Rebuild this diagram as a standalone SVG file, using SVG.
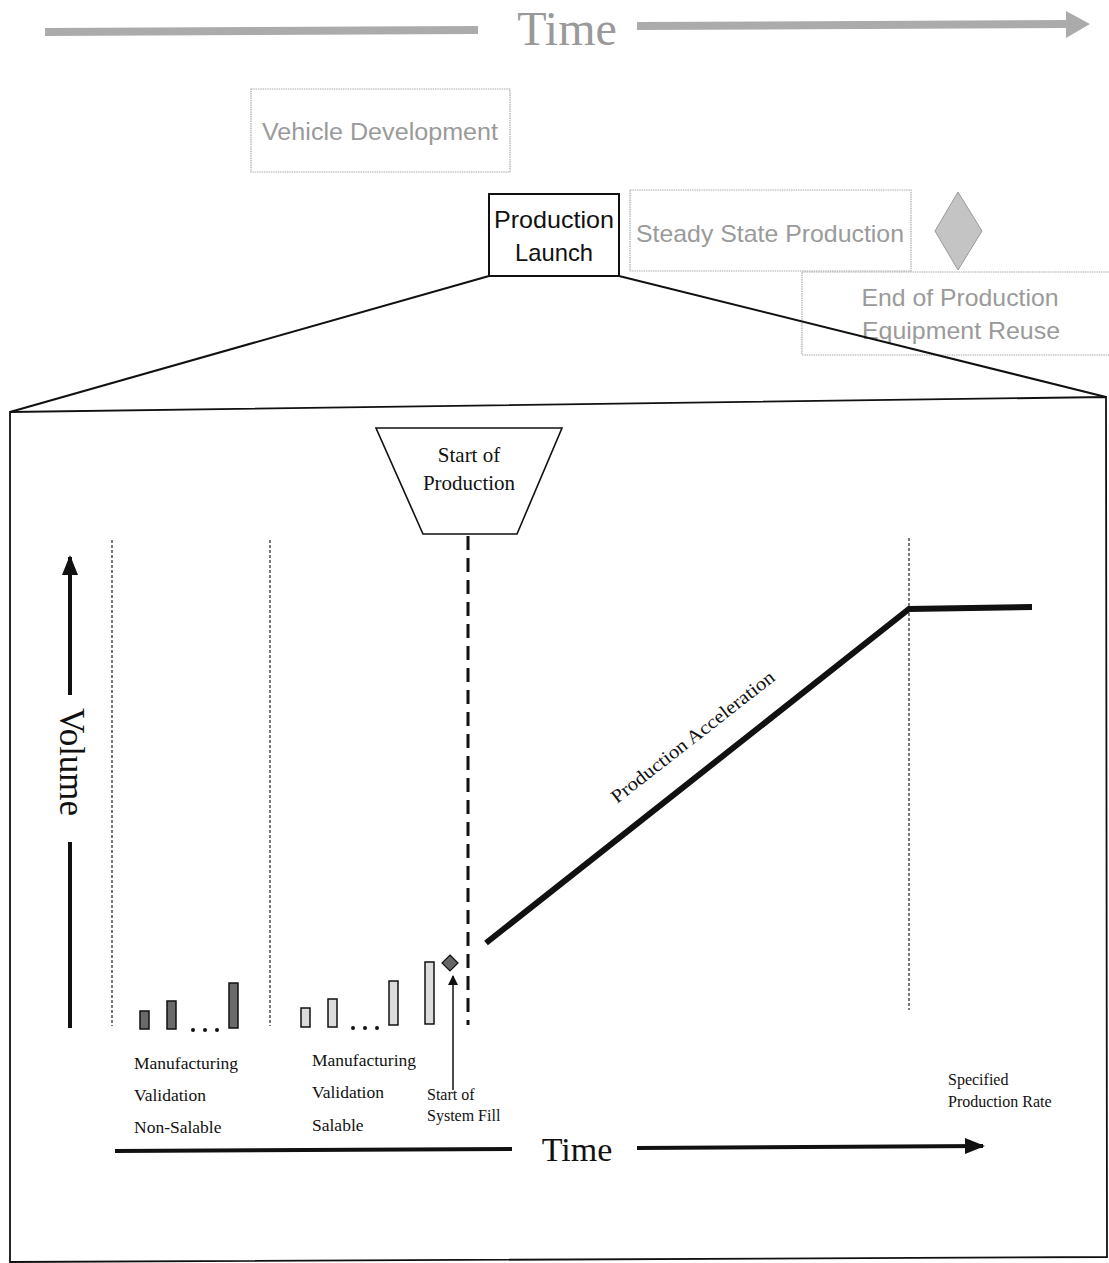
<svg xmlns="http://www.w3.org/2000/svg" width="1109" height="1263" viewBox="0 0 1109 1263">
<defs>
<style>
.g{font-family:"Liberation Sans",Arial,sans-serif;fill:#9a9a9a;}
.gb{fill:#fff;stroke:#aaa;stroke-width:1.2;stroke-dasharray:1.5 0.8;}
.s{font-family:"Liberation Serif","Times New Roman",serif;fill:#111;}
.dot{stroke:#222;stroke-width:1.2;stroke-dasharray:3 2;fill:none;}
.dk{fill:#6a6a6a;stroke:#111;stroke-width:1.5;}
.lt{fill:#dcdcdc;stroke:#111;stroke-width:1.5;}
</style>
<marker id="ah" viewBox="0 0 10 10" refX="9" refY="5" markerWidth="5" markerHeight="5" orient="auto" markerUnits="strokeWidth"><path d="M0,1 L10,5 L0,9 Z" fill="#111"/></marker>
<marker id="ah2" viewBox="0 0 10 10" refX="9" refY="5" markerWidth="7" markerHeight="8" orient="auto" markerUnits="strokeWidth"><path d="M0,0 L10,5 L0,10 Z" fill="#111"/></marker>
</defs>
<rect width="1109" height="1263" fill="#fff"/>

<g id="top-time">
<polygon points="45,28 478,26 478,34 45,36" fill="#ababab"/>
<text x="567" y="45" class="s" font-size="48" style="fill:#999" text-anchor="middle">Time</text>
<polygon points="637,22 1066,20 1066,11 1090,24 1066,38 1066,28 637,30" fill="#ababab"/>
</g>

<g id="vehicle-development">
<rect x="251" y="89" width="259" height="83" class="gb"/>
<text x="380" y="140" class="g" font-size="23" text-anchor="middle" textLength="236" lengthAdjust="spacingAndGlyphs">Vehicle Development</text>
</g>

<g id="production-launch">
<rect x="489" y="194" width="130" height="82" fill="#fff" stroke="#111" stroke-width="2"/>
<text x="554" y="228" font-family="Liberation Sans,Arial,sans-serif" font-size="24" fill="#111" text-anchor="middle" textLength="120" lengthAdjust="spacingAndGlyphs">Production</text>
<text x="554" y="261" font-family="Liberation Sans,Arial,sans-serif" font-size="24" fill="#111" text-anchor="middle" textLength="78" lengthAdjust="spacingAndGlyphs">Launch</text>
</g>

<g id="steady-state">
<rect x="630" y="190" width="281" height="81" class="gb"/>
<text x="770" y="242" class="g" font-size="24" text-anchor="middle" textLength="268" lengthAdjust="spacingAndGlyphs">Steady State Production</text>
</g>

<g id="diamond">
<polygon points="958,192 982,231 958,270 935,231" fill="#c4c4c4" stroke="#999" stroke-width="1"/>
</g>

<g id="end-of-production">
<rect x="802" y="272" width="310" height="83" class="gb"/>
<text x="960" y="306" class="g" font-size="24" text-anchor="middle" textLength="197" lengthAdjust="spacingAndGlyphs">End of Production</text>
<text x="961" y="339" class="g" font-size="24" text-anchor="middle" textLength="198" lengthAdjust="spacingAndGlyphs">Equipment Reuse</text>
</g>

<g id="zoom-frame" fill="none" stroke="#111">
<line x1="489" y1="276" x2="10" y2="412" stroke-width="2"/>
<line x1="619" y1="276" x2="1106" y2="397" stroke-width="2"/>
<polygon points="10,412 1106,397 1107,1257 10,1262" stroke-width="1.8"/>
</g>

<g id="start-of-production">
<polygon points="376,428 562,428 517,534 423,534" fill="#fff" stroke="#111" stroke-width="1.6"/>
<text x="469" y="462" class="s" font-size="21" text-anchor="middle">Start of</text>
<text x="469" y="490" class="s" font-size="21" text-anchor="middle">Production</text>
</g>

<g id="connectors">
<line x1="468" y1="536" x2="468" y2="1025" stroke="#111" stroke-width="3" stroke-dasharray="14 8"/>
<line x1="112" y1="540" x2="112" y2="1026" class="dot"/>
<line x1="270" y1="540" x2="270" y2="1026" class="dot"/>
<line x1="909" y1="538" x2="909" y2="1010" class="dot"/>
<line x1="70" y1="695" x2="70" y2="557" stroke="#111" stroke-width="4" marker-end="url(#ah)"/>
<line x1="70" y1="842" x2="70" y2="1028" stroke="#111" stroke-width="4"/>
<polyline points="486,943 909,609 1032,607" fill="none" stroke="#111" stroke-width="6"/>
<line x1="453" y1="1090" x2="453" y2="976" stroke="#111" stroke-width="1.5" marker-end="url(#ah2)"/>
<line x1="115" y1="1151" x2="512" y2="1149" stroke="#111" stroke-width="4"/>
<line x1="637" y1="1148" x2="983" y2="1146" stroke="#111" stroke-width="4" marker-end="url(#ah)"/>
</g>

<g id="volume-label">
<text transform="translate(60,762) rotate(90)" class="s" font-size="35" text-anchor="middle">Volume</text>
</g>

<g id="time-label">
<text x="577" y="1161" class="s" font-size="34" text-anchor="middle">Time</text>
</g>

<g id="bars-non-salable">
<rect x="140" y="1011" width="9" height="18" class="dk"/>
<rect x="167" y="1001" width="9" height="28" class="dk"/>
<rect x="229" y="983" width="9" height="45" class="dk"/>
<circle cx="193" cy="1030" r="2" fill="#111"/>
<circle cx="205" cy="1030" r="2" fill="#111"/>
<circle cx="217" cy="1030" r="2" fill="#111"/>
</g>

<g id="bars-salable">
<rect x="301" y="1008" width="9" height="19" class="lt"/>
<rect x="328" y="999" width="9" height="28" class="lt"/>
<rect x="389" y="981" width="9" height="44" class="lt"/>
<rect x="425" y="962" width="9" height="62" class="lt"/>
<circle cx="353" cy="1028" r="2" fill="#111"/>
<circle cx="365" cy="1028" r="2" fill="#111"/>
<circle cx="377" cy="1028" r="2" fill="#111"/>
</g>

<g id="system-fill-marker">
<polygon points="450,955 458,963 450,971 442,963" fill="#666" stroke="#111" stroke-width="1.2"/>
</g>

<g id="labels">
<text x="134" y="1069" class="s" font-size="17.5">Manufacturing</text>
<text x="134" y="1101" class="s" font-size="17.5">Validation</text>
<text x="134" y="1133" class="s" font-size="17.5">Non-Salable</text>
<text x="312" y="1066" class="s" font-size="17.5">Manufacturing</text>
<text x="312" y="1098" class="s" font-size="17.5">Validation</text>
<text x="312" y="1131" class="s" font-size="17.5">Salable</text>
<text x="427" y="1100" class="s" font-size="16">Start of</text>
<text x="427" y="1121" class="s" font-size="16">System Fill</text>
<text x="948" y="1085" class="s" font-size="16">Specified</text>
<text x="948" y="1107" class="s" font-size="16">Production Rate</text>
<text transform="translate(617,804) rotate(-38)" class="s" font-size="19" textLength="202" lengthAdjust="spacingAndGlyphs">Production Acceleration</text>
</g>
</svg>
